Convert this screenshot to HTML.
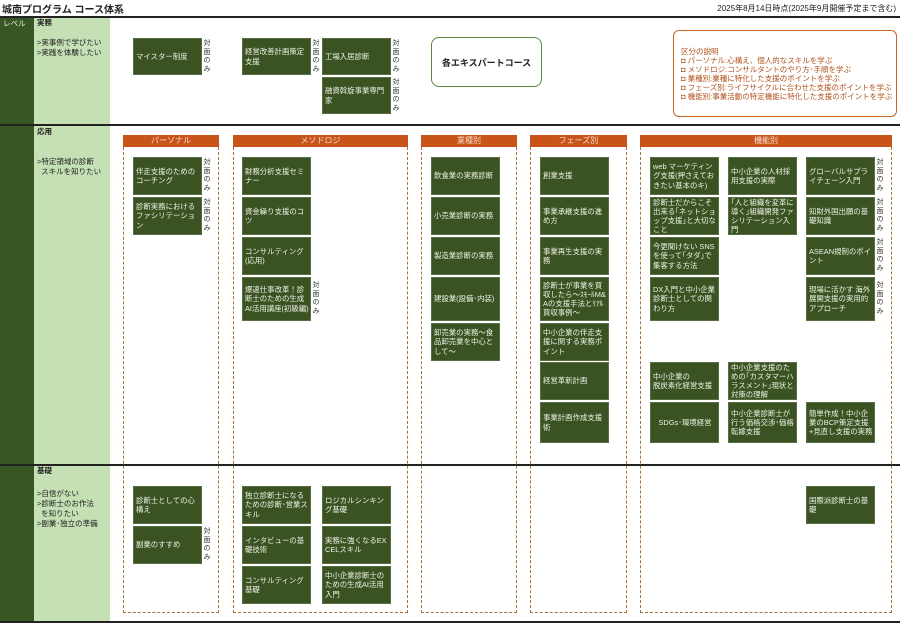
<!DOCTYPE html>
<html><head><meta charset="utf-8"><style>
*{margin:0;padding:0;box-sizing:border-box}
body{width:900px;height:625px;position:relative;background:#fff;font-family:"Liberation Sans","Noto Sans CJK JP",sans-serif;overflow:hidden;color:#222}
div{position:absolute}
.b{background:#3b5323;color:#eef2e6;font-size:7.4px;line-height:9.2px;padding:0 1px 0 2px;display:flex;align-items:center;border:1px solid #5a6e44;width:69px;overflow:hidden;word-break:break-all}
.t{font-size:7px;line-height:8.5px;width:8px;color:#333;text-align:center}
.h{background:#c8541a;color:#f6e0d0;font-size:8px;line-height:11px;height:12px;text-align:center}
.d{border:1.5px dashed #a8703a;border-top:none}
.l{font-size:7.5px;line-height:10px;color:#222}
.hl{height:2px;background:#222;left:0;width:900px}
</style></head><body>
<div style="left:2px;top:1px;font-size:10px;font-weight:bold">城南プログラム コース体系</div>
<div style="right:4px;top:3px;font-size:8px">2025年8月14日時点(2025年9月開催予定まで含む)</div>
<div class="hl" style="top:16px"></div>
<div style="left:0;top:18px;width:34px;height:604px;background:#375623"></div>
<div style="left:3px;top:18px;font-size:7.5px;color:#e8f0dc">レベル</div>
<div style="left:34px;top:18px;width:76px;height:604px;background:#c5e0b4"></div>
<div class="hl" style="top:124px"></div>
<div class="hl" style="top:464px"></div>
<div class="hl" style="top:621px"></div>
<div class="l" style="left:37px;top:18px;font-weight:bold">実務</div>
<div class="l" style="left:37px;top:38px">&gt;実事例で学びたい<br>&gt;実践を体験したい</div>
<div class="l" style="left:37px;top:127px;font-weight:bold">応用</div>
<div class="l" style="left:37px;top:157px">&gt;特定領域の診断<br>&nbsp;&nbsp;スキルを知りたい</div>
<div class="l" style="left:37px;top:466px;font-weight:bold">基礎</div>
<div class="l" style="left:37px;top:489px">&gt;自信がない<br>&gt;診断士のお作法<br>&nbsp;&nbsp;を知りたい<br>&gt;副業･独立の準備</div>

<!-- 実務 -->
<div class="b" style="left:133px;top:38px;height:37px">マイスター制度</div><div class="t" style="left:203px;top:40px">対面のみ</div>
<div class="b" style="left:242px;top:38px;height:37px">経営改善計画策定支援</div><div class="t" style="left:312px;top:40px">対面のみ</div>
<div class="b" style="left:322px;top:38px;height:37px">工場入居診断</div><div class="t" style="left:392px;top:40px">対面のみ</div>
<div class="b" style="left:322px;top:77px;height:37px">融資斡旋事業専門家</div><div class="t" style="left:392px;top:79px">対面のみ</div>
<div style="left:431px;top:37px;width:111px;height:50px;border:1.5px solid #5a8a3a;border-radius:8px;font-size:9px;font-weight:bold;display:flex;align-items:center;justify-content:center">各エキスパートコース</div>
<div style="left:673px;top:30px;width:224px;height:87px;border:1.5px solid #c8641e;border-radius:6px;font-size:7.5px;line-height:9px;color:#b0501a;padding:16px 0 0 7px">区分の説明<br>◘ パーソナル:心構え、個人的なスキルを学ぶ<br>◘ メソドロジ:コンサルタントのやり方･手順を学ぶ<br>◘ 業種別:業種に特化した支援のポイントを学ぶ<br>◘ フェーズ別:ライフサイクルに合わせた支援のポイントを学ぶ<br>◘ 機能別:事業活動の特定機能に特化した支援のポイントを学ぶ</div>

<!-- headers & dashed -->
<div class="h" style="left:123px;top:135px;width:96px">パーソナル</div><div class="d" style="left:123px;top:147px;width:96px;height:466px"></div>
<div class="h" style="left:233px;top:135px;width:175px">メソドロジ</div><div class="d" style="left:233px;top:147px;width:175px;height:466px"></div>
<div class="h" style="left:421px;top:135px;width:96px">業種別</div><div class="d" style="left:421px;top:147px;width:96px;height:466px"></div>
<div class="h" style="left:530px;top:135px;width:97px">フェーズ別</div><div class="d" style="left:530px;top:147px;width:97px;height:466px"></div>
<div class="h" style="left:640px;top:135px;width:252px">機能別</div><div class="d" style="left:640px;top:147px;width:252px;height:466px"></div>

<!-- 応用 personal -->
<div class="b" style="left:133px;top:157px;height:38px">伴走支援のためのコーチング</div><div class="t" style="left:203px;top:159px">対面のみ</div>
<div class="b" style="left:133px;top:197px;height:38px">診断実務におけるファシリテーション</div><div class="t" style="left:203px;top:199px">対面のみ</div>
<!-- methodology -->
<div class="b" style="left:242px;top:157px;height:38px">財務分析支援セミナー</div>
<div class="b" style="left:242px;top:197px;height:38px">資金繰り支援のコツ</div>
<div class="b" style="left:242px;top:237px;height:38px">コンサルティング(応用)</div>
<div class="b" style="left:242px;top:277px;height:44px">爆速仕事改革！診断士のための生成AI活用講座(初級編)</div><div class="t" style="left:312px;top:282px">対面のみ</div>
<!-- 業種 -->
<div class="b" style="left:431px;top:157px;height:38px">飲食業の実務診断</div>
<div class="b" style="left:431px;top:197px;height:38px">小売業診断の実務</div>
<div class="b" style="left:431px;top:237px;height:38px">製造業診断の実務</div>
<div class="b" style="left:431px;top:277px;height:44px">建設業(設備･内装)</div>
<div class="b" style="left:431px;top:323px;height:38px">卸売業の実務～食品卸売業を中心として～</div>
<!-- フェーズ -->
<div class="b" style="left:540px;top:157px;height:38px">創業支援</div>
<div class="b" style="left:540px;top:197px;height:38px">事業承継支援の進め方</div>
<div class="b" style="left:540px;top:237px;height:38px">事業再生支援の実務</div>
<div class="b" style="left:540px;top:277px;height:44px">診断士が事業を買収したら～ｽﾓｰﾙM&amp;Aの支援手法とﾘｱﾙ買収事例～</div>
<div class="b" style="left:540px;top:323px;height:38px">中小企業の伴走支援に関する実務ポイント</div>
<div class="b" style="left:540px;top:362px;height:38px">経営革新計画</div>
<div class="b" style="left:540px;top:402px;height:41px">事業計画作成支援術</div>
<!-- 機能 -->
<div class="b" style="left:650px;top:157px;height:38px">web マーケティング支援(押さえておきたい基本のキ)</div>
<div class="b" style="left:650px;top:197px;height:38px">診断士だからこそ出来る｢ネットショップ支援｣と大切なこと</div>
<div class="b" style="left:650px;top:237px;height:38px">今更聞けない SNSを使って｢タダ｣で集客する方法</div>
<div class="b" style="left:650px;top:277px;height:44px">DX入門と中小企業診断士としての関わり方</div>
<div class="b" style="left:728px;top:157px;height:38px">中小企業の人材採用支援の実際</div>
<div class="b" style="left:728px;top:197px;height:38px">｢人と組織を変革に導く｣組織開発ファシリテーション入門</div>
<div class="b" style="left:806px;top:157px;height:38px">グローバルサプライチェーン入門</div><div class="t" style="left:876px;top:159px">対面のみ</div>
<div class="b" style="left:806px;top:197px;height:38px">知財外国出願の基礎知識</div><div class="t" style="left:876px;top:199px">対面のみ</div>
<div class="b" style="left:806px;top:237px;height:38px">ASEAN規制のポイント</div><div class="t" style="left:876px;top:239px">対面のみ</div>
<div class="b" style="left:806px;top:277px;height:44px">現場に活かす 海外展開支援の実用的アプローチ</div><div class="t" style="left:876px;top:282px">対面のみ</div>
<div class="b" style="left:650px;top:362px;height:38px">中小企業の<br>脱炭素化経営支援</div>
<div class="b" style="left:728px;top:362px;height:38px">中小企業支援のための｢カスタマーハラスメント｣現状と対策の理解</div>
<div class="b" style="left:650px;top:402px;height:41px;justify-content:center">SDGs･環境経営</div>
<div class="b" style="left:728px;top:402px;height:41px">中小企業診断士が行う価格交渉･価格転嫁支援</div>
<div class="b" style="left:806px;top:402px;height:41px">簡単作成！中小企業のBCP策定支援+見直し支援の実務</div>

<!-- 基礎 -->
<div class="b" style="left:133px;top:486px;height:38px">診断士としての心構え</div>
<div class="b" style="left:133px;top:526px;height:38px">副業のすすめ</div><div class="t" style="left:203px;top:528px">対面のみ</div>
<div class="b" style="left:242px;top:486px;height:38px">独立診断士になるための診断･営業スキル</div>
<div class="b" style="left:242px;top:526px;height:38px">インタビューの基礎技術</div>
<div class="b" style="left:242px;top:566px;height:38px">コンサルティング基礎</div>
<div class="b" style="left:322px;top:486px;height:38px">ロジカルシンキング基礎</div>
<div class="b" style="left:322px;top:526px;height:38px">実務に強くなるEXCELスキル</div>
<div class="b" style="left:322px;top:566px;height:38px">中小企業診断士のための生成AI活用入門</div>
<div class="b" style="left:806px;top:486px;height:38px">国際派診断士の基礎</div>
</body></html>
